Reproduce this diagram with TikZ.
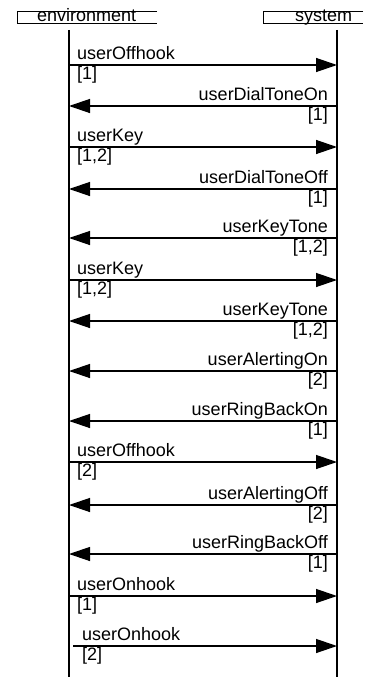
\documentclass[tikz,border=0pt]{standalone}
\usepackage{fontspec}
\setmainfont{Liberation Sans}
\usetikzlibrary{arrows.meta}
\begin{document}
\begin{tikzpicture}[x=1pt,y=-1pt,
  every node/.style={font=\fontsize{18}{20}\selectfont, inner sep=0pt},
  lifeline/.style={line width=1.7pt},
  msg/.style={line width=1.3pt, -{Triangle[length=21pt,width=14pt]}},
  hdr/.style={line width=0.7pt},
  lab/.style={anchor=base west},
  rlab/.style={anchor=base east}]
\useasboundingbox (0,0) rectangle (379,677);

% instance headers
\node[lab] (envname) at (37,21.5) {environment};
\node[lab] (sysname) at (295,21.5) {system};
\draw[hdr] (157,11.5) -| (17,23.5) -- (157,23.5);
\draw[hdr] (363,11.5) -| (263,23.5) -- (363,23.5);

% lifelines
\coordinate (envtop) at (69,30);
\coordinate (envbot) at (69,677);
\coordinate (systop) at (337,30);
\coordinate (sysbot) at (337,677);
\draw[lifeline] (envtop) -- (envbot);
\draw[lifeline] (systop) -- (sysbot);

% messages from environment to system
\foreach \n/\y/\xs/\xl/\m/\g in {
  1/65/69/77/userOffhook/{[1]},
  3/147/69/77/userKey/{[1,2]},
  6/280/69/77/userKey/{[1,2]},
  10/462/69/77/userOffhook/{[2]},
  13/596/69/77/userOnhook/{[1]},
  14/646/73/82/userOnhook/{[2]}} {
  \coordinate (e\n) at (\xs,\y);
  \coordinate (s\n) at (337,\y);
  \draw[msg] (e\n) -- (s\n);
  \node[lab] (m\n) at (\xl,\y-5.5) {\m};
  \node[lab] (g\n) at (\xl,\y+14) {\g};
}

% messages from system to environment
\foreach \n/\y/\m/\g in {
  2/106/userDialToneOn/{[1]},
  4/189/userDialToneOff/{[1]},
  5/238/userKeyTone/{[1,2]},
  7/321/userKeyTone/{[1,2]},
  8/371/userAlertingOn/{[2]},
  9/421/userRingBackOn/{[1]},
  11/505/userAlertingOff/{[2]},
  12/554/userRingBackOff/{[1]}} {
  \coordinate (e\n) at (69,\y);
  \coordinate (s\n) at (337,\y);
  \draw[msg] (s\n) -- (e\n);
  \node[rlab] (m\n) at (328,\y-5.5) {\m};
  \node[rlab] (g\n) at (328,\y+14) {\g};
}
\end{tikzpicture}
\end{document}
